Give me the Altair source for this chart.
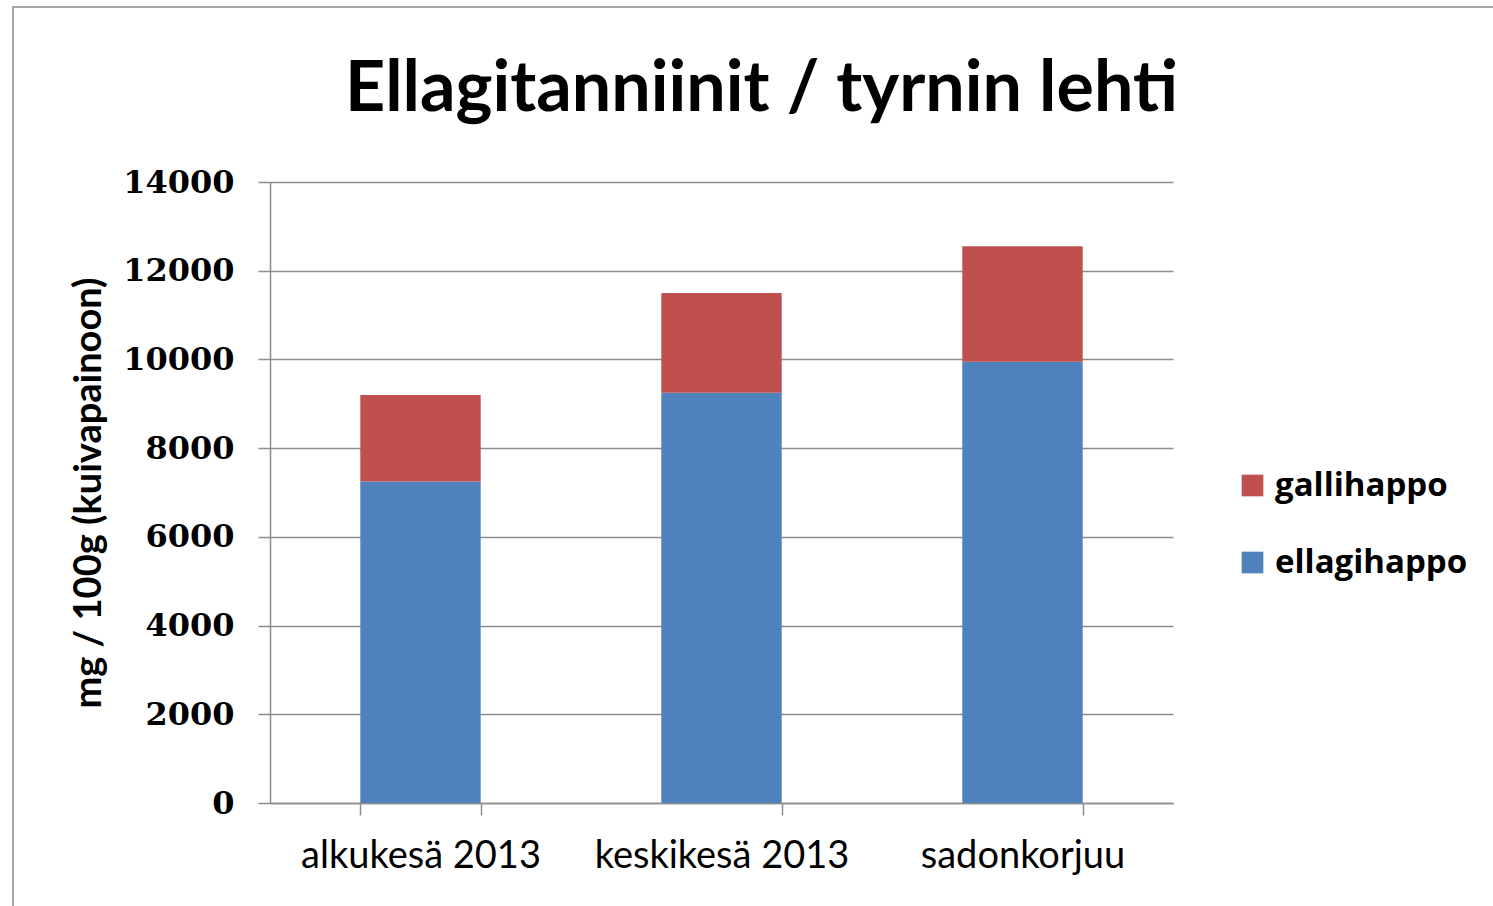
import altair as alt
import pandas as pd

categories = ["alkukesä 2013", "keskikesä 2013", "sadonkorjuu"]
ellagihappo = [7250, 9250, 9950]
gallihappo = [1950, 2250, 2600]
series_names = ["gallihappo", "ellagihappo"]
series_colors = ["#C0504D", "#4F81BD"]
y_ticks = [0, 2000, 4000, 6000, 8000, 10000, 12000, 14000]

rows = []
for c, e, g in zip(categories, ellagihappo, gallihappo):
    rows.append({"kausi": c, "sarja": "ellagihappo", "arvo": e, "ord": 0})
    rows.append({"kausi": c, "sarja": "gallihappo", "arvo": g, "ord": 1})
df = pd.DataFrame(rows)

PLOT_W, PLOT_H = 903, 621
LEFT, TOP = 270, 182

bars = alt.Chart(df).mark_bar(stroke=None).encode(
    x=alt.X("kausi:N", sort=categories, title=None,
            scale=alt.Scale(paddingInner=0.6, paddingOuter=0.3),
            axis=alt.Axis(labelAngle=0, tickBand="extent", tickSize=12,
                          tickColor="#8c8c8c", domainColor="#8c8c8c",
                          domainWidth=1.5, tickWidth=1.5, labelLimit=0,
                          labelFont="Lato", labelFontSize=38, labelColor="#000000",
                          labelPadding=22, grid=False)),
    y=alt.Y("arvo:Q", stack="zero", title="mg / 100g (kuivapainoon)",
            scale=alt.Scale(domain=[0, 14000], nice=False),
            axis=alt.Axis(values=y_ticks, format="d", tickSize=12, tickColor="#8c8c8c",
                          tickWidth=1.5, domainColor="#8c8c8c", domainWidth=1.5,
                          gridColor="#8c8c8c", gridWidth=1.5,
                          labelFont="DejaVu Serif", labelFontWeight="bold",
                          labelFontSize=32, labelColor="#000000", labelPadding=24,
                          titleFont="Lato", titleFontWeight="bold",
                          titleFontSize=38, titleColor="#000000", titlePadding=14)),
    color=alt.Color("sarja:N", title=None,
                    scale=alt.Scale(domain=series_names, range=series_colors),
                    legend=alt.Legend(orient="none", legendX=966, legendY=287,
                                      symbolType="square", symbolSize=470,
                                      symbolStrokeWidth=0, rowPadding=43,
                                      labelFont="Open Sans", labelFontWeight="bold",
                                      labelFontSize=33, labelColor="#000000",
                                      labelLimit=0, labelOffset=6)),
    order=alt.Order("ord:Q"),
)

frame_df = pd.DataFrame({"k": [0]})
frame = alt.Chart(frame_df).mark_rect(fill=None, stroke="#a6a6a6", strokeWidth=2).encode(
    x=alt.value(13 - LEFT), x2=alt.value(1493 - LEFT + 20),
    y=alt.value(7 - TOP), y2=alt.value(906 - TOP + 20),
)

chart = alt.layer(frame, bars).properties(
    width=PLOT_W, height=PLOT_H,
    title=alt.TitleParams("Ellagitanniinit / tyrnin lehti", font="Lato",
                          fontSize=70, fontWeight="bold", color="#000000",
                          anchor="middle", frame="group", dx=40,
                          baseline="alphabetic", offset=-175),
    autosize=alt.AutoSizeParams(type="none"),
    padding={"left": LEFT, "top": TOP, "right": 1493 - LEFT - PLOT_W, "bottom": 906 - TOP - PLOT_H},
    background="#ffffff",
).configure_view(stroke=None)

chart.save("out.html", embed_options={"renderer": "svg", "actions": False})
